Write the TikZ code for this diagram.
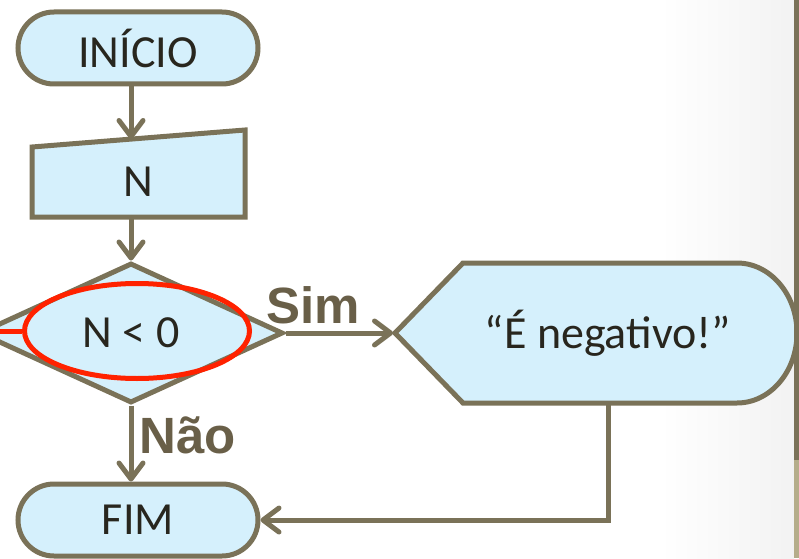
\documentclass[tikz,border=0pt]{standalone}
\usepackage{fontspec}
\setmainfont{Carlito}
\newfontfamily\rotulofont{Liberation Sans}
\usetikzlibrary{shapes,arrows.meta,calc,backgrounds}

\definecolor{contorno}{RGB}{122,114,88}
\definecolor{preench}{RGB}{213,240,252}
\definecolor{texto}{RGB}{40,38,30}
\definecolor{rotulo}{RGB}{105,95,72}
\definecolor{realce}{RGB}{255,34,0}
\definecolor{barra}{RGB}{181,173,138}

\tikzset{
  bloco/.style={draw=contorno, line width=5pt, fill=preench, text=texto,
    font=\fontsize{46}{50}\selectfont, inner sep=0pt},
  terminal/.style={bloco, rounded rectangle, minimum width=240pt, minimum height=72pt},
  caixa/.style={bloco, draw=none, fill=none, outer sep=0pt},
  seta/.style={draw=contorno, line width=5pt, -{Straight Barb[length=16pt,width=24pt,round]}},
  rot/.style={text=rotulo, font=\rotulofont\bfseries\fontsize{51}{55}\selectfont, inner sep=0pt}
}

\begin{document}
\begin{tikzpicture}[x=1pt,y=1pt]
\useasboundingbox (0,0) rectangle (799,558);
\clip (0,0) rectangle (799,558);

% blocos
\node[terminal] (inicio) at (138,510) {INÍCIO};
\node[caixa, minimum width=213pt, minimum height=70pt] (lerN) at (138.5,376) {N};
\node[bloco, diamond, minimum width=304pt, minimum height=140pt] (decisao) at (131,225) {N < 0};
\node[caixa, minimum width=290pt, minimum height=140pt] (saida) at (608,225) {“É negativo!”};
\node[terminal] (fim) at (138,38) {FIM};

% fundo, entrada manual e exibicao
\begin{pgfonlayer}{background}
\shade[left color=white, right color=black!5] (660,0) rectangle (794,558);
\draw[bloco] (lerN.south west) -- (lerN.south east) -- ($(lerN.north east)+(0,17)$)
  -- (lerN.north west) -- cycle;
\draw[bloco] (saida.north west) -- ($(saida.north east)+(-16,0)$)
  arc[start angle=90, end angle=-90, x radius=60, y radius=70]
  -- (saida.south west) -- ($(saida.west)+(-68,0)$) -- cycle;
\end{pgfonlayer}
\coordinate (topoN) at (131,419);
\coordinate (bico) at ($(saida.west)+(-70,0)$);

% ligacoes
\draw[seta] (inicio.south -| decisao) -- (topoN);
\draw[seta] (lerN.south -| decisao) -- (decisao.north);
\draw[seta] (decisao.east) -- node[rot, pos=0.26, above=7pt] (sim) {Sim} (bico);
\draw[seta] (decisao.south) -- node[rot, pos=0.39, right=6pt] (nao) {Não} (fim.north -| decisao);
\draw[seta] (saida.south) |- (fim.east);

% destaque da condicao
\node[draw=realce, line width=5pt, ellipse, minimum width=225pt, minimum height=95pt] (destaque) at (137,227) {};
\coordinate (borda) at (-5,227);
\draw[realce, line width=5pt] (borda) -- (destaque.west);

% barra lateral
\fill[contorno] (794,98) rectangle (799,558);
\fill[barra] (794,0) rectangle (799,98);
\end{tikzpicture}
\end{document}
